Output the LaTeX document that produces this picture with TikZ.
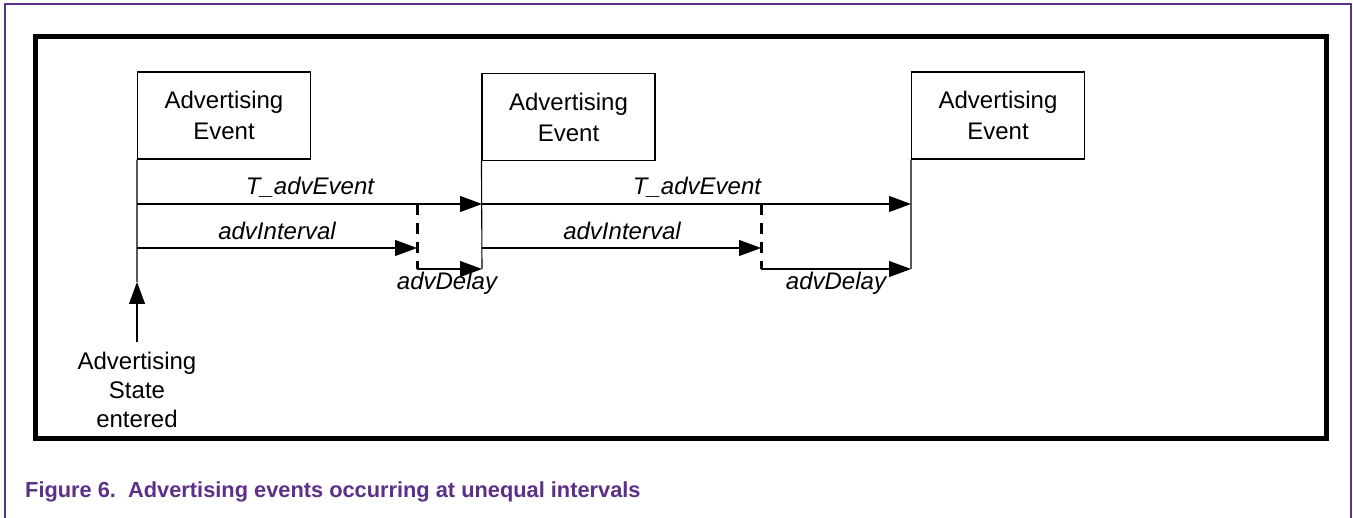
\documentclass[tikz,border=0pt]{standalone}
\usepackage{fontspec}
\setmainfont{Liberation Sans}
\usetikzlibrary{positioning,arrows.meta}
\definecolor{nxppurple}{RGB}{92,48,135}

\begin{document}
\begin{tikzpicture}[x=1pt, y=-1pt,
  evbox/.style={draw, line width=1.1pt, minimum width=173pt, minimum height=87pt, align=center, inner sep=0pt, font=\fontsize{24}{31}\selectfont},
  lbl/.style={anchor=base, inner sep=0pt, font=\fontsize{24}{28}\selectfont\itshape},
  arr/.style={-{Triangle[length=22pt,width=16pt]}, line width=1.1pt},
  ln/.style={line width=1.1pt},
  delay/.style={line width=3pt, dash pattern=on 11pt off 8pt}]
\useasboundingbox (0,0) rectangle (1353,518);
\draw[nxppurple, line width=2pt] (5,518) -- (5,4) -- (1351,4) -- (1351,518);
\draw[line width=5pt] (35,37) rectangle (1326,439);
\node[evbox] (ev1) at (224,115.5) {Advertising\\Event};
\node[evbox] (ev2) at (568.5,117) {Advertising\\Event};
\node[evbox] (ev3) at (998,115.5) {Advertising\\Event};
\node[align=center, anchor=north, inner sep=0pt, outer ysep=10pt, font=\fontsize{24}{29}\selectfont] (start) at (137,342) {Advertising\\State\\entered};
\coordinate (in1) at (137,282);
\coordinate (e1a) at (137,204); \coordinate (e1b) at (137,248);
\coordinate (e2a) at (482,204); \coordinate (e2b) at (482,248); \coordinate (e2c) at (482,269);
\coordinate (e3a) at (911,204); \coordinate (e3c) at (911,269);
\coordinate (d1a) at (417,204); \coordinate (d1b) at (417,269);
\coordinate (d2a) at (761,204); \coordinate (d2b) at (761,269);
\draw[ln] (ev1.south west) -- (in1); \draw[ln] (ev2.south west) -- (e2c); \draw[ln] (ev3.south west) -- (e3c);
\draw[arr] (start) -- (in1);
\draw[arr] (e1a) -- (e2a); \draw[arr] (e2a) -- (e3a);
\draw[arr] (e1b) -- (d1a |- e1b); \draw[arr] (e2b) -- (d2a |- e2b);
\draw[delay] (d1a) -- (d1b); \draw[delay] (d2a) -- (d2b);
\draw[arr] (d1b) -- (e2c); \draw[arr] (d2b) -- (e3c);
\node[lbl] (te1) at (310,195) {T\_advEvent};
\node[lbl] (te2) at (697,195) {T\_advEvent};
\node[lbl] (ai1) at (277,240) {advInterval};
\node[lbl] (ai2) at (622,240) {advInterval};
\node[lbl] (ad1) at (447,290) {advDelay};
\node[lbl] (ad2) at (836,290) {advDelay};
\node[anchor=base west, inner sep=0pt, text=nxppurple, font=\fontsize{21.8}{26}\selectfont\bfseries] (cap) at (25,497) {Figure 6.\ \ Advertising events occurring at unequal intervals};
\end{tikzpicture}
\end{document}
